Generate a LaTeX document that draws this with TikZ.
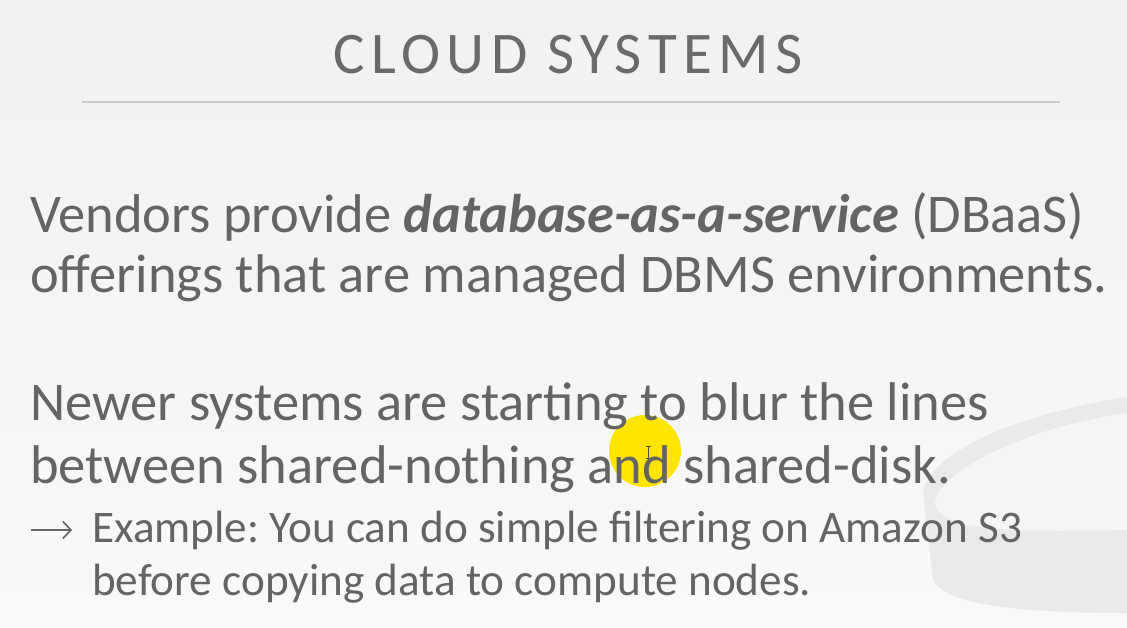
\documentclass[tikz,border=0pt]{standalone}
\usepackage{fontspec}
\usetikzlibrary{arrows.meta}
\setmainfont{Carlito}
\newfontfamily\titlefont[LetterSpace=11]{Carlito}
\definecolor{txt}{HTML}{646464}
\definecolor{ttl}{HTML}{6A6A6A}
\definecolor{rulec}{HTML}{C9C9C9}
\definecolor{bgtop}{HTML}{F1F1F1}
\definecolor{bgbot}{HTML}{F9F9F9}
\definecolor{deco}{HTML}{E9E9E9}
\definecolor{decoin}{HTML}{F5F5F5}
\definecolor{hl}{HTML}{FFE500}
\tikzset{
  body/.style={anchor=base west, inner sep=0pt, text=txt, font=\frenchspacing\fontsize{54.5}{60}\selectfont},
  sub/.style={anchor=base west, inner sep=0pt, text=txt, font=\frenchspacing\fontsize{45.2}{53}\selectfont},
  titletext/.style={anchor=base, inner sep=0pt, text=ttl, font=\titlefont\fontsize{59}{66}\selectfont},
  bularrow/.style={draw=txt, line width=1.6pt, -{Straight Barb[length=8pt,width=17pt,line width=1.6pt]}}
}
\begin{document}
\begin{tikzpicture}[x=1pt,y=-1pt]
\useasboundingbox (0,0) rectangle (1127,627);
\shade[top color=bgtop, bottom color=bgbot] (0,0) rectangle (1127,627);
% faded database decoration
\fill[deco] (923,493) .. controls (928,455) and (1010,415) .. (1127,397)
  -- (1127,613) .. controls (1020,613) and (945,605) .. (933,580) -- cycle;
\fill[decoin] (935,503) .. controls (935,478) and (1010,430) .. (1127,413)
  -- (1127,530) .. controls (1010,532) and (940,532) .. (935,503) -- cycle;
% title and rule
\node[titletext] (title) at (568,73) {CLOUD SYSTEMS};
\coordinate (ruleL) at (82,102);
\coordinate (ruleR) at (1060,102);
\draw[rulec, line width=2.5pt] (ruleL) -- (ruleR);
% pointer highlight
\fill[hl] (645,451) circle (36);
\draw[txt!80!black, line width=0.8pt] (648,446) -- (648,458) (645.5,446) -- (650.5,446) (645.5,458) -- (650.5,458);
% body text
\node[body] (l1) at (30,232) {Vendors provide \textbf{\textit{database-as-a-service}} (DBaaS)};
\node[body] (l2) at (30,292) {offerings that are managed DBMS environments.};
\node[body] (l3) at (30,420) {Newer systems are starting to blur the lines};
\node[body] (l4) at (30,483) {between shared-nothing and shared-disk.};
\coordinate (arrS) at (31,530);
\coordinate (arrE) at (72,530);
\draw[bularrow] (arrS) -- (arrE);
\node[sub] (s1) at (92,542) {Example: You can do simple filtering on Amazon S3};
\node[sub] (s2) at (92,595) {before copying data to compute nodes.};
\end{tikzpicture}
\end{document}
